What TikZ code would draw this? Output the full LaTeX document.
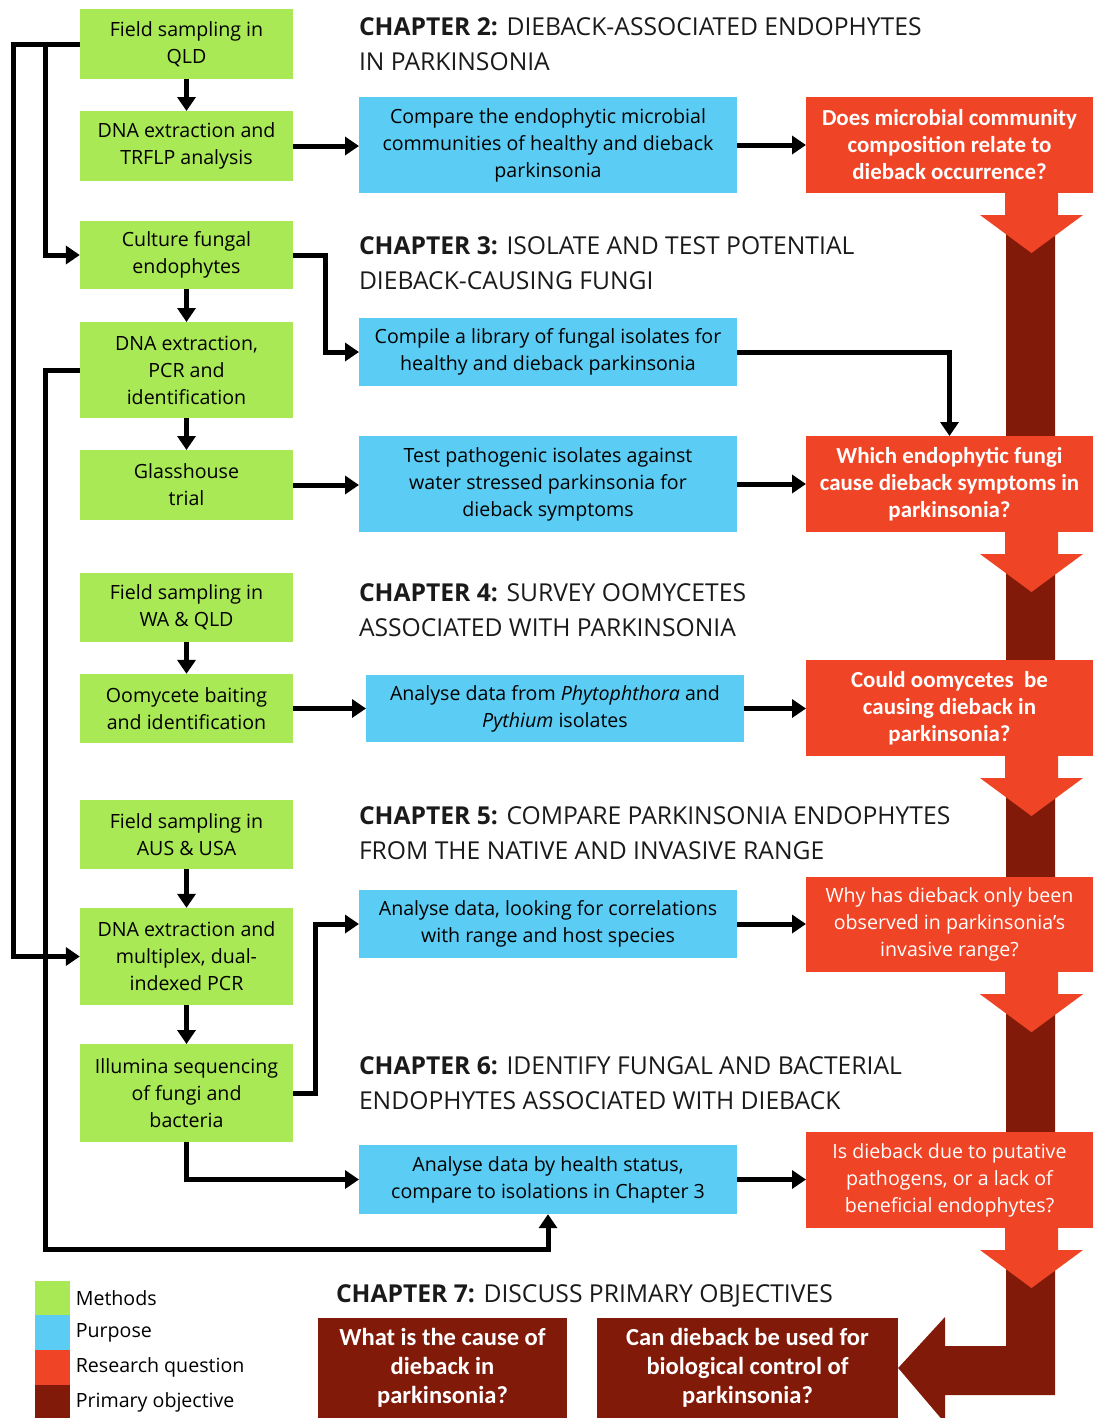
\documentclass[tikz,border=0pt]{standalone}
\usepackage{fontspec}
\setmainfont{Open Sans}
\newfontfamily\qfont{Carlito}
\usetikzlibrary{arrows.meta, positioning}

\definecolor{mgreen}{HTML}{A9E955}
\definecolor{pblue}{HTML}{5BCCF3}
\definecolor{qred}{HTML}{F04426}
\definecolor{obrown}{HTML}{821A09}
\definecolor{chapink}{HTML}{1A1A1A}

\begin{document}
\begin{tikzpicture}[
    x=0.75pt, y=-0.75pt,
    every node/.style = {inner sep=0pt, outer sep=0pt},
    boxfont/.style = {font=\fontsize{14.7}{20.25}\selectfont},
    method/.style = {rectangle, fill=mgreen, minimum width=160pt, align=center, boxfont},
    purpose/.style = {rectangle, fill=pblue, minimum width=283.5pt, align=center, boxfont},
    question/.style = {rectangle, fill=qred, minimum width=215.25pt, align=center, text=white,
                       font=\qfont\bfseries\fontsize{17.2}{20.25}\selectfont},
    qplain/.style = {question, boxfont},
    objective/.style = {rectangle, fill=obrown, minimum height=75pt, align=center, text=white,
                        font=\qfont\bfseries\fontsize{18.4}{21.75}\selectfont},
    chap/.style = {anchor=west, align=left, text=chapink, font=\fontsize{18.5}{26.25}\selectfont},
    legsq/.style = {rectangle, minimum size=26pt},
    legtxt/.style = {anchor=west, boxfont},
    pil/.style = {black, line width=3.75pt, -{Triangle[length=10.5pt,width=13.5pt]}},
    ]
  \useasboundingbox (0,0) rectangle (1093,1418);

  % big brown path on the right
  \node[objective, minimum width=187pt] (o1) at (442.5,1368) {What is the cause of\\dieback in\\parkinsonia?};
  \node[objective, minimum width=226pt] (o2) at (747.5,1368) {Can dieback be used for\\biological control of\\parkinsonia?};
  \fill[obrown] (1006,232) -- (1006,1346) -- (945,1346) -- (945,1317) -- (o2.east)
    -- (945,1423) -- (945,1395) -- (1055,1395) -- (1055,232) -- cycle;

  % chapter titles
  \node[chap] (c2) at (359,44.5) {\textbf{CHAPTER 2:} DIEBACK-ASSOCIATED ENDOPHYTES\\IN PARKINSONIA};
  \node[chap] (c3) at (359,263.5) {\textbf{CHAPTER 3:} ISOLATE AND TEST POTENTIAL\\DIEBACK-CAUSING FUNGI};
  \node[chap] (c4) at (359,610.5) {\textbf{CHAPTER 4:} SURVEY OOMYCETES\\ASSOCIATED WITH PARKINSONIA};
  \node[chap] (c5) at (359,833.5) {\textbf{CHAPTER 5:} COMPARE PARKINSONIA ENDOPHYTES\\FROM THE NATIVE AND INVASIVE RANGE};
  \node[chap] (c6) at (359,1083) {\textbf{CHAPTER 6:} IDENTIFY FUNGAL AND BACTERIAL\\ENDOPHYTES ASSOCIATED WITH DIEBACK};
  \node[chap] (c7) at (336,1296) {\textbf{CHAPTER 7:} DISCUSS PRIMARY OBJECTIVES};

  % methods
  \node[method, minimum height=52.5pt] (m1) at (186.5,44) {Field sampling in\\QLD};
  \node[method, minimum height=52.5pt] (m2) at (186.5,146) {DNA extraction and\\TRFLP analysis};
  \node[method, minimum height=51pt] (m3) at (186.5,255) {Culture fungal\\endophytes};
  \node[method, minimum height=72pt] (m4) at (186.5,370) {DNA extraction,\\PCR and\\identification};
  \node[method, minimum height=52.5pt] (m5) at (186.5,485) {Glasshouse\\trial};
  \node[method, minimum height=52pt] (m6) at (186.5,607.5) {Field sampling in\\WA \& QLD};
  \node[method, minimum height=52pt] (m7) at (186.5,708.5) {Oomycete baiting\\and identification};
  \node[method, minimum height=52pt] (m8) at (186.5,834.5) {Field sampling in\\AUS \& USA};
  \node[method, minimum height=73pt] (m9) at (186.5,956.5) {DNA extraction and\\multiplex, dual-\\indexed PCR};
  \node[method, minimum height=73.5pt] (m10) at (186.5,1093) {Illumina sequencing\\of fungi and\\bacteria};

  % purposes
  \node[purpose, minimum height=72pt] (p1) at (548,145) {Compare the endophytic microbial\\communities of healthy and dieback\\parkinsonia};
  \node[purpose, minimum height=51pt] (p2) at (548,352) {Compile a library of fungal isolates for\\healthy and dieback parkinsonia};
  \node[purpose, minimum height=72pt] (p3) at (548,484) {Test pathogenic isolates against\\water stressed parkinsonia for\\dieback symptoms};
  \node[purpose, minimum height=50.5pt] (p4) at (555,708.5) {Analyse data from \emph{Phytophthora} and\\\emph{Pythium} isolates};
  \node[purpose, minimum height=51pt] (p5) at (548,924) {Analyse data, looking for correlations\\with range and host species};
  \node[purpose, minimum height=52pt] (p6) at (548,1179.5) {Analyse data by health status,\\compare to isolations in Chapter 3};

  % research questions
  \node[question, minimum height=72pt] (q1) at (949.5,145) {Does microbial community\\composition relate to\\dieback occurrence?};
  \node[question, minimum height=72pt] (q2) at (949.5,484) {Which endophytic fungi\\cause dieback symptoms in\\parkinsonia?};
  \node[question, minimum height=72pt] (q3) at (949.5,708) {Could oomycetes\ \ be\\causing dieback in\\parkinsonia?};
  \node[qplain, minimum height=71.5pt] (q4) at (949.5,924.5) {Why has dieback only been\\observed in parkinsonia’s\\invasive range?};
  \node[qplain, minimum height=72pt] (q5) at (949.5,1180) {Is dieback due to putative\\pathogens, or a lack of\\beneficial endophytes?};

  \foreach \q in {q1,q2,q3,q4,q5}
    \fill[qred] (\q.south) ++(55.5,0) -- ++(0,22) -- ++(-25,0) -- ++(51.5,38)
      -- ++(51.5,-38) -- ++(-25,0) -- ++(0,-22) -- cycle;

  % legend
  \node[legsq, fill=mgreen] (lg1) at (52.5,1298) {};
  \node[legsq, fill=pblue, below=0pt of lg1] (lg2) {};
  \node[legsq, fill=qred, below=0pt of lg2] (lg3) {};
  \node[legsq, fill=obrown, below=0pt of lg3] (lg4) {};
  \node[legtxt, right=4.5pt of lg1] (lt1) {Methods};
  \node[legtxt, right=4.5pt of lg2] (lt2) {Purpose};
  \node[legtxt, right=4.5pt of lg3] (lt3) {Research question};
  \node[legtxt, right=4.5pt of lg4] (lt4) {Primary objective};

  % connectors
  \draw[pil] (m1) -- (m2);
  \draw[pil] (m3) -- (m4);
  \draw[pil] (m4) -- (m5);
  \draw[pil] (m6) -- (m7);
  \draw[pil] (m8) -- (m9);
  \draw[pil] (m9) -- (m10);

  \draw[pil] (m1.west) -- (13,44) |- (m9.west);
  \draw[pil] (m1.west) -- (45,44) |- (m3.west);
  \draw[pil] (m4.west) -| (45,1249) -| (p6.south);
  \draw[pil] (m3.east) -- (325,255) |- (p2.west);
  \draw[pil] (m10.east) -- (315,1093) |- (p5.west);
  \draw[pil] (m10.south) |- (p6.west);

  \draw[pil] (m2.east) -- (m2.east -| p1.west);
  \draw[pil] (m5.east) -- (m5.east -| p3.west);
  \draw[pil] (m7.east) -- (m7.east -| p4.west);

  \draw[pil] (p1.east) -- (p1.east -| q1.west);
  \draw[pil] (p2.east) -| (q2.north);
  \draw[pil] (p3.east) -- (p3.east -| q2.west);
  \draw[pil] (p4.east) -- (p4.east -| q3.west);
  \draw[pil] (p5.east) -- (p5.east -| q4.west);
  \draw[pil] (p6.east) -- (p6.east -| q5.west);

\end{tikzpicture}
\end{document}
